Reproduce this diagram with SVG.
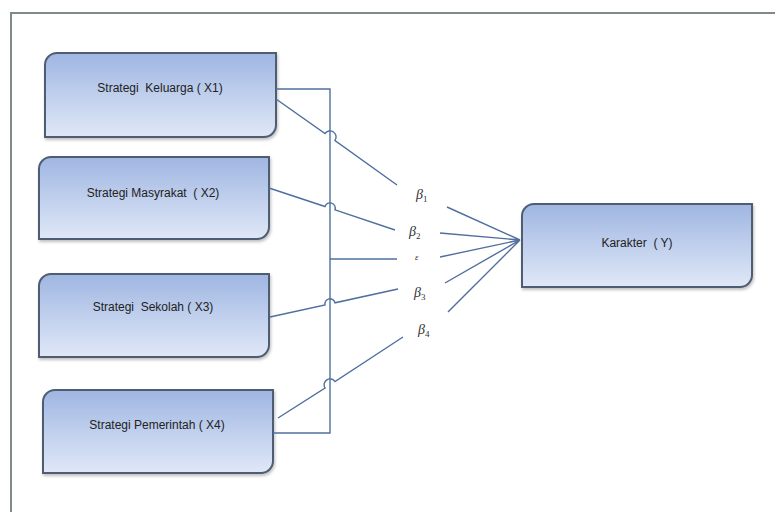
<svg xmlns="http://www.w3.org/2000/svg" width="775" height="512" viewBox="0 0 775 512">
<defs>
<linearGradient id="g" x1="0" y1="0" x2="0" y2="1">
<stop offset="0" stop-color="#9fb6e2"/>
<stop offset="1" stop-color="#e0e8f7"/>
</linearGradient>
<filter id="sh" x="-10%" y="-10%" width="125%" height="130%">
<feDropShadow dx="1" dy="2" stdDeviation="1.5" flood-color="#000" flood-opacity="0.25"/>
</filter>
</defs>
<style>
.box{fill:url(#g);stroke:#4f5d73;stroke-width:2;filter:url(#sh)}
.lbl{font-family:"Liberation Sans","DejaVu Sans",sans-serif;font-size:12px;fill:#222;text-anchor:middle;white-space:pre}
.c{fill:none;stroke:#4f6f9f;stroke-width:1.4}
.frame{fill:none;stroke:#7f8b8b;stroke-width:2}
.gr{font-family:"Liberation Serif","DejaVu Serif",serif;font-style:italic;font-size:14px;fill:#333}
.sub{font-size:9px;font-style:normal}
</style>
<rect width="775" height="512" fill="#fff"/>
<path class="frame" d="M11,512 L11,13 L775,13"/>
<g id="x1"><path class="box" d="M45,137 L45,65 A12,12 0 0 1 57,53 L276,53 L276,125 A12,12 0 0 1 264,137 Z"/><text class="lbl" x="160" y="92">Strategi  Keluarga ( X1)</text></g>
<g id="x2"><path class="box" d="M39,239 L39,169 A12,12 0 0 1 51,157 L269,157 L269,227 A12,12 0 0 1 257,239 Z"/><text class="lbl" x="153" y="197">Strategi Masyrakat  ( X2)</text></g>
<g id="x3"><path class="box" d="M39,357 L39,286 A12,12 0 0 1 51,274 L269,274 L269,345 A12,12 0 0 1 257,357 Z"/><text class="lbl" x="153" y="311">Strategi  Sekolah ( X3)</text></g>
<g id="x4"><path class="box" d="M43,473 L43,402 A12,12 0 0 1 55,390 L273,390 L273,461 A12,12 0 0 1 261,473 Z"/><text class="lbl" x="157" y="429">Strategi Pemerintah ( X4)</text></g>
<g id="y"><path class="box" d="M522,287 L522,216 A12,12 0 0 1 534,204 L752,204 L752,275 A12,12 0 0 1 740,287 Z"/><text class="lbl" x="637" y="247">Karakter  ( Y)</text></g>
<g id="connectors">
<path class="c" d="M276,89 L330,89 L330,433 L273,433"/>
<path class="c" d="M330,259 L397,259"/>
<path class="c" d="M276,99 L325,133.5 A5,5 0 0 1 335,140.5 L397,185"/>
<path class="c" d="M269,188 L325,206.5 A5,5 0 0 1 335,209.8 L395,230"/>
<path class="c" d="M270,317 L325,305 A5,5 0 0 1 335,302.8 L398,289"/>
<path class="c" d="M278,418 L325,388 A5,5 0 0 1 335,381.6 L403,337"/>
<path class="c" d="M447,207 L520,240 M440,233 L520,240 M440,257 L520,240 M445,283 L520,240 M448,312 L520,240"/>
</g>
<g id="labels">
<text class="gr" x="416" y="199">β<tspan class="sub" dy="3">1</tspan></text>
<text class="gr" x="409" y="236">β<tspan class="sub" dy="3">2</tspan></text>
<text class="gr" x="415" y="260" style="font-size:9px">ε</text>
<text class="gr" x="414" y="297">β<tspan class="sub" dy="3">3</tspan></text>
<text class="gr" x="418" y="334">β<tspan class="sub" dy="3">4</tspan></text>
</g>
</svg>
